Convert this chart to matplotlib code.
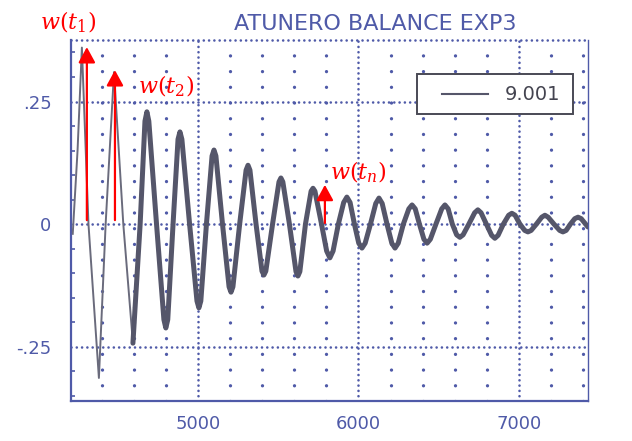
import numpy as np
import matplotlib
matplotlib.use("Agg")
from matplotlib import pyplot as plt
from matplotlib.patches import Rectangle

plt.rcParams['font.family'] = ['DejaVu Sans']
plt.rcParams['mathtext.fontset'] = 'dejavuserif'
plt.rcParams['lines.scale_dashes'] = False

# values: time, balance response
t = [4220, 4250, 4277, 4318, 4383, 4425, 4477, 4535, 4595,
     4640, 4670, 4682, 4694, 4742,
     4788, 4800, 4812, 4845, 4876, 4888, 4900, 4948,
     4994, 5006, 5018, 5053, 5088, 5100, 5112, 5153,
     5194, 5206, 5218, 5260, 5300, 5312, 5324, 5362,
     5399, 5411, 5423, 5465, 5505, 5517, 5529, 5570,
     5611, 5623, 5635, 5670, 5705, 5717, 5729, 5770,
     5802, 5822, 5842, 5875, 5908, 5928, 5948, 5975,
     6002, 6022, 6042, 6075, 6108, 6128, 6148, 6178,
     6208, 6228, 6248, 6280, 6314, 6334, 6354, 6380,
     6408, 6428, 6448, 6483, 6519, 6539, 6559, 6585,
     6612, 6632, 6652, 6688, 6724, 6744, 6764, 6797,
     6830, 6850, 6870, 6903, 6936, 6956, 6976, 7006,
     7036, 7056, 7076, 7109, 7142, 7162, 7182, 7218,
     7254, 7274, 7294, 7321, 7348, 7368, 7388, 7430]
w = [-0.02, 0.15, 0.36, 0.0, -0.314, 0.0, 0.31, 0.0, -0.243,
     0.0, 0.21, 0.229, 0.21, 0.0,
     -0.195, -0.212, -0.195, 0.0, 0.173, 0.188, 0.173, 0.0,
     -0.157, -0.171, -0.157, 0.0, 0.139, 0.151, 0.139, 0.0,
     -0.128, -0.139, -0.128, 0.0, 0.110, 0.120, 0.110, 0.0,
     -0.096, -0.104, -0.096, 0.0, 0.086, 0.094, 0.086, 0.0,
     -0.097, -0.106, -0.097, 0.0, 0.067, 0.073, 0.067, 0.0,
     -0.055, -0.069, -0.055, 0.0, 0.044, 0.055, 0.044, 0.0,
     -0.039, -0.049, -0.039, 0.0, 0.042, 0.053, 0.042, 0.0,
     -0.039, -0.049, -0.039, 0.0, 0.031, 0.039, 0.031, 0.0,
     -0.031, -0.039, -0.031, 0.0, 0.031, 0.039, 0.031, 0.0,
     -0.022, -0.027, -0.022, 0.0, 0.023, 0.029, 0.023, 0.0,
     -0.023, -0.029, -0.023, 0.0, 0.018, 0.022, 0.018, 0.0,
     -0.013, -0.016, -0.013, 0.0, 0.014, 0.018, 0.014, 0.0,
     -0.013, -0.016, -0.013, 0.0, 0.011, 0.014, 0.011, -0.006]
thin_end = 8  # first swings are drawn thin in the scan

legend_label = "9.001"
title = "ATUNERO BALANCE EXP3"
yticks = [-0.25, 0, 0.25]
ylabels = ["-.25", "0", ".25"]
xticks = [5000, 6000, 7000]
xminor = [4400, 4600, 4800, 5200, 5400, 5600, 5800, 6200, 6400, 6600, 6800, 7200, 7400]

# red annotations: (x, base, tip)
arrows = [(4308, 0.008, 0.361), (4483, 0.008, 0.314), (5791, 0.002, 0.08)]
arrow_labels = [r"$w(t_1)$", r"$w(t_2)$", r"$w(t_n)$"]
label_pos = [(0.107, 0.950), (0.263, 0.803), (0.567, 0.610)]

blue = "#4f5aa8"
gray = "#55566a"

fig = plt.figure(figsize=(6.32, 4.41), dpi=100)
ax = fig.add_axes([0.1123, 0.0907, 0.818, 0.8186])
ax.set_xlim(4209, 7430)
ax.set_ylim(-0.361, 0.3755)

# dotted grid like the plotter paper
for x in xminor:
    ax.axvline(x, color=blue, lw=2.4, dashes=(0.01, 11.3), dash_capstyle='round', zorder=1)
for x in xticks:
    ax.axvline(x, color=blue, lw=1.9, dashes=(0.01, 3.8), dash_capstyle='round', zorder=1)
for y in yticks:
    ax.axhline(y, color=blue, lw=1.9, dashes=(0.01, 3.8), dash_capstyle='round', zorder=1)

ax.plot(t[:thin_end + 1], w[:thin_end + 1], color="#6a6b7c", lw=1.4, zorder=3)
ax.plot(t[thin_end:], w[thin_end:], color=gray, lw=3.6, zorder=3,
        solid_joinstyle='round', solid_capstyle='round')

for sp in ['left', 'bottom']:
    ax.spines[sp].set_color(blue)
    ax.spines[sp].set_linewidth(1.6)
ax.spines['right'].set_color(blue)
ax.spines['right'].set_linewidth(1.0)
ax.spines['top'].set_color(blue)
ax.spines['top'].set_linewidth(1.9)
ax.spines['top'].set_linestyle((0, (0.01, 3.8)))
ax.spines['top'].set_capstyle('round')

ax.set_xticks(xticks)
ax.set_yticks(yticks, ylabels)
ax.set_yticks(np.arange(-0.35, 0.37, 0.05), minor=True)
ax.tick_params(axis='both', which='major', length=0, labelcolor=blue, labelsize=13)
ax.tick_params(axis='x', pad=10)
ax.tick_params(axis='y', pad=14)
ax.tick_params(axis='y', which='minor', direction='in', length=3, color=blue, width=1.2)

# legend box drawn by hand to get the plotter's padding
ax.add_patch(Rectangle((0.669, 0.795), 0.302, 0.111, transform=ax.transAxes,
                       facecolor='white', edgecolor="#4a4a55", lw=1.4, zorder=6))
ax.plot([0.7176, 0.8066], [0.8504, 0.8504], transform=ax.transAxes,
        color=gray, lw=1.5, zorder=7)
ax.text(0.8395, 0.8504, legend_label, transform=ax.transAxes, ha='left', va='center',
        fontsize=14, color="#444450", zorder=7)

fig.text(0.593, 0.946, title, ha='center', va='center', fontsize=16, color=blue)

for (x, b, tip), lab, (lx, ly) in zip(arrows, arrow_labels, label_pos):
    ax.annotate('', xy=(x, tip), xytext=(x, b),
                arrowprops=dict(arrowstyle='-|>,head_length=0.55,head_width=0.3',
                                color='red', lw=1.6, mutation_scale=17,
                                shrinkA=0, shrinkB=0), zorder=5)
    fig.text(lx, ly, lab, ha='center', va='center', fontsize=16, color='red')

fig.savefig("out.png", dpi=100)
